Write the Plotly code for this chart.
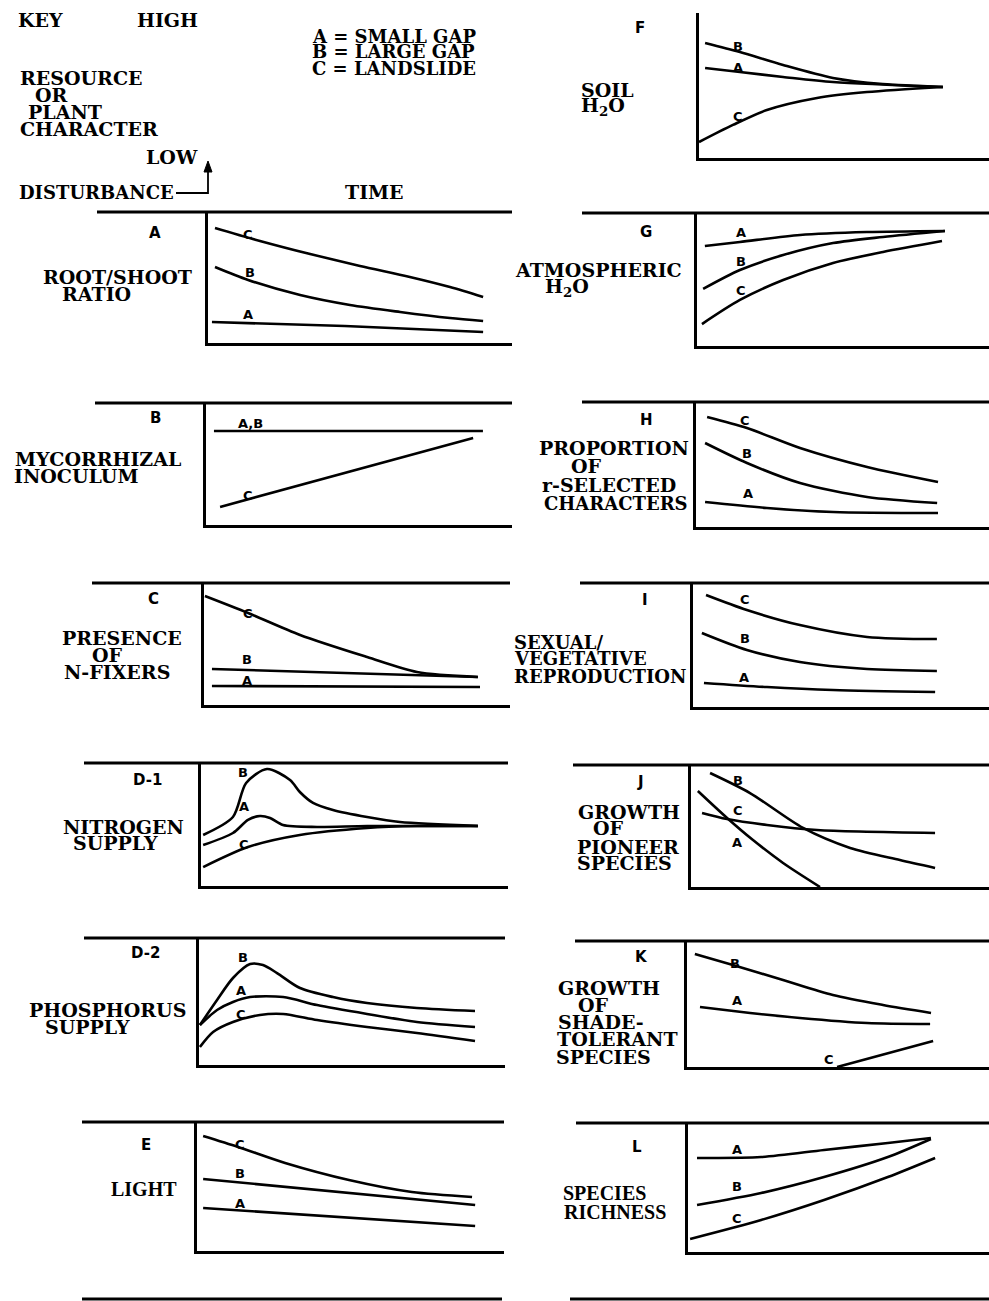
import plotly.graph_objects as go

W, H = 989, 1301

# ---------------- DATA (time 0-100 along each panel's time axis, level 0-100 up its axis) -------------
# Panel A: root/shoot ratio
rs_C_t = [2.3, 17.1, 33.6, 50.0, 66.4, 79.6, 90.5]
rs_C_y = [87.8, 77.9, 67.9, 58.8, 50.4, 42.7, 35.1]
rs_B_t = [2.3, 13.2, 30.3, 46.7, 63.2, 79.6, 90.5]
rs_B_y = [58.0, 48.1, 36.6, 29.0, 23.7, 19.1, 16.8]
rs_A_t = [1.3, 45.0, 90.5]
rs_A_y = [16.0, 13.0, 8.4]
# Panel B: mycorrhizal inoculum
my_AB_t = [2.6, 90.5]
my_AB_y = [77.0, 77.0]
my_C_t = [4.6, 87.3]
my_C_y = [14.8, 71.3]
# Panel C: presence of N-fixers
nf_C_t = [0.3, 14.4, 31.4, 53.3, 69.6, 89.5]
nf_C_y = [89.3, 75.4, 57.4, 39.3, 27.0, 23.0]
nf_B_t = [2.6, 89.5]
nf_B_y = [29.5, 23.0]
nf_A_t = [2.6, 90.2]
nf_A_y = [15.6, 14.8]
# Panel D-1: nitrogen supply
ns_B_t = [0.7, 10.4, 14.7, 21.5, 29.0, 32.2, 36.5, 43.0, 54.1, 64.8, 90.2]
ns_B_y = [41.5, 56.1, 83.7, 95.1, 86.2, 76.4, 67.5, 61.8, 56.1, 52.0, 48.8]
ns_A_t = [0.7, 10.4, 15.3, 19.2, 22.5, 26.7, 37.8, 54.1, 90.2]
ns_A_y = [33.3, 43.1, 53.7, 56.9, 55.3, 49.6, 48.0, 48.8, 48.8]
ns_C_t = [0.7, 15.3, 32.2, 54.1, 70.4, 90.2]
ns_C_y = [15.4, 31.7, 41.5, 47.2, 48.8, 48.8]
# Panel D-2: phosphorus supply
ps_B_t = [0.3, 5.9, 11.1, 16.7, 20.9, 25.5, 33.0, 43.8, 54.9, 71.2, 90.2]
ps_B_y = [31.5, 51.2, 68.5, 79.5, 78.7, 72.4, 60.6, 53.5, 48.8, 44.9, 42.5]
ps_A_t = [0.3, 5.9, 11.1, 16.7, 27.5, 38.6, 54.9, 71.2, 90.2]
ps_A_y = [31.5, 43.3, 49.6, 53.5, 53.5, 47.2, 40.2, 33.9, 29.9]
ps_C_t = [0.3, 4.6, 11.1, 19.9, 27.5, 38.6, 54.9, 71.2, 90.2]
ps_C_y = [14.2, 26.0, 33.9, 39.4, 40.2, 35.4, 29.9, 25.2, 18.9]
# Panel E: light
li_C_t = [2.0, 13.4, 28.7, 49.5, 70.0, 89.6]
li_C_y = [89.1, 80.6, 68.2, 55.0, 45.7, 41.9]
li_B_t = [2.0, 90.6]
li_B_y = [55.8, 35.7]
li_A_t = [2.0, 90.6]
li_A_y = [33.3, 19.4]
# Panel F: soil H2O
sw_B_t = [2.1, 14.1, 29.0, 46.2, 63.4, 84.1]
sw_B_y = [79.3, 73.1, 64.1, 55.2, 51.0, 49.0]
sw_A_t = [2.1, 14.1, 29.0, 46.2, 84.1]
sw_A_y = [62.1, 59.3, 55.9, 52.4, 49.0]
sw_C_t = [0.0, 11.7, 23.4, 40.7, 57.9, 84.1]
sw_C_y = [11.0, 22.8, 33.1, 41.4, 45.5, 49.0]
# Panel G: atmospheric H2O
aw_A_t = [2.7, 14.7, 35.3, 58.2, 84.9]
aw_A_y = [75.2, 78.2, 83.5, 85.7, 86.5]
aw_B_t = [2.1, 14.7, 29.5, 46.6, 63.7, 84.9]
aw_B_y = [42.9, 57.1, 68.4, 77.4, 82.0, 86.5]
aw_C_t = [1.7, 14.7, 29.5, 46.6, 63.7, 83.9]
aw_C_y = [16.5, 34.6, 49.6, 62.4, 70.7, 78.9]
# Panel H: proportion of r-selected characters
rc_C_t = [3.8, 17.4, 35.5, 58.4, 82.6]
rc_C_y = [88.0, 79.2, 63.2, 48.0, 36.0]
rc_B_t = [3.1, 17.4, 35.5, 58.4, 82.3]
rc_B_y = [67.2, 51.2, 35.2, 24.0, 19.2]
rc_A_t = [3.1, 24.2, 46.8, 82.6]
rc_A_y = [20.0, 15.2, 12.0, 11.2]
# Panel I: sexual/vegetative reproduction
sv_C_t = [4.4, 18.2, 36.1, 58.8, 82.4]
sv_C_y = [90.3, 78.2, 66.1, 56.5, 54.8]
sv_B_t = [3.0, 18.2, 36.1, 58.8, 82.4]
sv_B_y = [59.7, 46.0, 36.3, 30.6, 29.0]
sv_A_t = [3.7, 25.0, 47.3, 81.8]
sv_A_y = [19.4, 16.1, 13.7, 12.1]
# Panel J: growth of pioneer species
pi_B_t = [6.4, 19.8, 37.6, 53.4, 70.1, 81.9]
pi_B_y = [93.4, 77.0, 48.4, 32.0, 22.1, 15.6]
pi_A_t = [2.3, 12.1, 20.8, 30.9, 43.3]
pi_A_y = [78.7, 56.6, 38.5, 19.7, 0.0]
pi_C_t = [3.7, 12.1, 25.5, 42.3, 81.9]
pi_C_y = [60.7, 55.7, 50.8, 46.7, 44.3]
# Panel K: growth of shade-tolerant species
st_B_t = [2.6, 15.2, 31.8, 48.3, 64.9, 80.8]
st_B_y = [89.7, 81.0, 69.0, 57.1, 49.2, 42.9]
st_A_t = [4.3, 20.9, 37.4, 59.6, 80.5]
st_A_y = [47.6, 42.9, 38.9, 34.9, 34.1]
st_C_t = [49.7, 81.5]
st_C_y = [0.0, 20.6]
# Panel L: species richness
sr_A_t = [3.0, 24.3, 45.2, 66.4, 80.7]
sr_A_y = [72.9, 73.6, 79.1, 84.5, 88.4]
sr_B_t = [3.0, 24.3, 45.2, 66.4, 80.7]
sr_B_y = [36.4, 45.7, 58.1, 73.6, 87.6]
sr_C_t = [0.7, 24.3, 45.2, 66.4, 82.1]
sr_C_y = [10.1, 24.8, 40.3, 58.1, 72.9]

# curve label positions (time, level) per panel
rs_lab = [("C", 13.2, 83.2), ("B", 13.8, 54.2), ("A", 13.2, 22.1)]
my_lab = [("A,B", 14.4, 83.6), ("C", 13.7, 23.8)]
nf_lab = [("C", 14.4, 75.4), ("B", 14.1, 36.9), ("A", 14.1, 19.7)]
ns_lab = [("B", 13.7, 91.9), ("A", 14.0, 65.0), ("C", 14.0, 34.1)]
ps_lab = [("B", 14.4, 84.3), ("A", 13.7, 58.3), ("C", 13.7, 39.4)]
li_lab = [("C", 14.0, 82.2), ("B", 14.0, 59.7), ("A", 14.0, 37.2)]
sw_lab = [("B", 13.4, 77.2), ("A", 13.4, 62.1), ("C", 13.4, 28.3)]
aw_lab = [("A", 15.1, 85.0), ("B", 15.1, 63.2), ("C", 15.1, 42.1)]
rc_lab = [("C", 16.7, 85.6), ("B", 17.4, 59.2), ("A", 17.7, 27.2)]
sv_lab = [("C", 17.6, 86.3), ("B", 17.6, 55.6), ("A", 17.2, 23.4)]
pi_lab = [("B", 15.8, 86.9), ("A", 15.4, 36.1), ("C", 15.8, 63.1)]
st_lab = [("B", 15.9, 82.5), ("A", 16.6, 52.4), ("C", 47.0, 5.6)]
sr_lab = [("A", 16.3, 79.1), ("B", 16.3, 50.4), ("C", 16.3, 25.6)]

# ---------------- LAYOUT (pixel geometry of each panel: left, right, bottom, top) ----------------
panels = [
    dict(geom=(208, 512, 157, 8), curves=[], labels=[]),                                   # key
    dict(geom=(208, 512, 343, 212), curves=[(rs_C_t, rs_C_y), (rs_B_t, rs_B_y), (rs_A_t, rs_A_y)], labels=rs_lab),
    dict(geom=(206, 512, 525, 403), curves=[(my_AB_t, my_AB_y), (my_C_t, my_C_y)], labels=my_lab),
    dict(geom=(204, 510, 705, 583), curves=[(nf_C_t, nf_C_y), (nf_B_t, nf_B_y), (nf_A_t, nf_A_y)], labels=nf_lab),
    dict(geom=(201, 508, 886, 763), curves=[(ns_B_t, ns_B_y), (ns_A_t, ns_A_y), (ns_C_t, ns_C_y)], labels=ns_lab),
    dict(geom=(199, 505, 1065, 938), curves=[(ps_B_t, ps_B_y), (ps_A_t, ps_A_y), (ps_C_t, ps_C_y)], labels=ps_lab),
    dict(geom=(197, 504, 1251, 1122), curves=[(li_C_t, li_C_y), (li_B_t, li_B_y), (li_A_t, li_A_y)], labels=li_lab),
    dict(geom=(699, 989, 158, 13), curves=[(sw_B_t, sw_B_y), (sw_A_t, sw_A_y), (sw_C_t, sw_C_y)], labels=sw_lab),
    dict(geom=(697, 989, 346, 213), curves=[(aw_A_t, aw_A_y), (aw_B_t, aw_B_y), (aw_C_t, aw_C_y)], labels=aw_lab),
    dict(geom=(696, 989, 527, 402), curves=[(rc_C_t, rc_C_y), (rc_B_t, rc_B_y), (rc_A_t, rc_A_y)], labels=rc_lab),
    dict(geom=(693, 989, 707, 583), curves=[(sv_C_t, sv_C_y), (sv_B_t, sv_B_y), (sv_A_t, sv_A_y)], labels=sv_lab),
    dict(geom=(691, 989, 887, 765), curves=[(pi_B_t, pi_B_y), (pi_A_t, pi_A_y), (pi_C_t, pi_C_y)], labels=pi_lab),
    dict(geom=(687, 989, 1067, 941), curves=[(st_B_t, st_B_y), (st_A_t, st_A_y), (st_C_t, st_C_y)], labels=st_lab),
    dict(geom=(688, 989, 1252, 1123), curves=[(sr_A_t, sr_A_y), (sr_B_t, sr_B_y), (sr_C_t, sr_C_y)], labels=sr_lab),
]

# separator rules (y, x_start, x_end) in pixels
separators = [
    (212, 97, 512), (403, 95, 512), (583, 92, 510), (763, 84, 508), (938, 84, 505), (1122, 82, 504), (1299, 82, 502),
    (213, 582, 989), (402, 582, 989), (583, 580, 989), (765, 573, 989), (941, 575, 989), (1123, 576, 989), (1299, 570, 989),
]

# text: (text, x, y, style, anchor)
texts = [
    ("KEY", 40, 20, "main", "center"), ("HIGH", 167, 20, "main", "center"),
    ("RESOURCE", 81, 78, "main", "center"), ("OR", 51, 95, "main", "center"),
    ("PLANT", 65, 112, "main", "center"), ("CHARACTER", 89, 129, "main", "center"),
    ("LOW", 172, 157, "main", "center"), ("DISTURBANCE", 96, 192, "small", "center"),
    ("TIME", 374, 192, "main", "center"),
    ("A = SMALL GAP", 310, 36, "legend", "left"), ("B = LARGE GAP", 310, 52, "legend", "left"),
    ("C = LANDSLIDE", 310, 68, "legend", "left"),
    ("A", 155, 233, "panel", "center"), ("ROOT/SHOOT", 117, 277, "main", "center"), ("RATIO", 96, 294, "main", "center"),
    ("B", 155, 418, "panel", "center"), ("MYCORRHIZAL", 98, 459, "main", "center"), ("INOCULUM", 76, 476, "main", "center"),
    ("C", 153, 599, "panel", "center"), ("PRESENCE", 122, 638, "main", "center"), ("OF", 107, 655, "main", "center"),
    ("N-FIXERS", 117, 672, "main", "center"),
    ("D-1", 147, 780, "panel", "center"), ("NITROGEN", 123, 827, "main", "center"), ("SUPPLY", 115, 843, "main", "center"),
    ("D-2", 145, 953, "panel", "center"), ("PHOSPHORUS", 107, 1010, "main", "center"), ("SUPPLY", 87, 1027, "main", "center"),
    ("E", 146, 1145, "panel", "center"), ("LIGHT", 144, 1189, "narrow", "center"),
    ("F", 640, 28, "panel", "center"), ("SOIL", 607, 90, "main", "center"), ("H<sub>2</sub>O", 603, 106, "main", "center"),
    ("G", 646, 232, "panel", "center"), ("ATMOSPHERIC", 598, 270, "main", "center"), ("H<sub>2</sub>O", 567, 288, "main", "center"),
    ("H", 646, 420, "panel", "center"), ("PROPORTION", 614, 448, "main", "center"), ("OF", 586, 466, "main", "center"),
    ("r-SELECTED", 609, 485, "main", "center"), ("CHARACTERS", 616, 503, "small", "center"),
    ("I", 645, 600, "panel", "center"), ("SEXUAL/", 512, 642, "small", "left"), ("VEGETATIVE", 512, 658, "small", "left"),
    ("REPRODUCTION", 512, 676, "small", "left"),
    ("J", 640, 782, "panel", "center"), ("GROWTH", 629, 812, "main", "center"), ("OF", 608, 828, "main", "center"),
    ("PIONEER", 628, 847, "main", "center"), ("SPECIES", 624, 863, "main", "center"),
    ("K", 641, 957, "panel", "center"), ("GROWTH", 609, 988, "main", "center"), ("OF", 593, 1005, "main", "center"),
    ("SHADE-", 601, 1022, "main", "center"), ("TOLERANT", 617, 1039, "main", "center"), ("SPECIES", 603, 1057, "main", "center"),
    ("L", 637, 1147, "panel", "center"), ("SPECIES", 604, 1193, "narrow", "center"), ("RICHNESS", 615, 1212, "narrow", "center"),
]

fonts = {
    "main": dict(family="DejaVu Serif", size=19, color="black"),
    "small": dict(family="DejaVu Serif", size=18, color="black"),
    "legend": dict(family="DejaVu Serif", size=18, color="black"),
    "panel": dict(family="DejaVu Sans", size=15, color="black"),
    "narrow": dict(family="Liberation Serif", size=20, color="black"),
}


def px(x):
    return x / W


def py(y):
    return 1 - y / H


fig = go.Figure()
layout = dict(
    width=W, height=H, margin=dict(l=0, r=0, t=0, b=0),
    paper_bgcolor="white", plot_bgcolor="rgba(0,0,0,0)", showlegend=False,
)
annotations = []
shapes = []

axis_common = dict(range=[0, 100], showline=True, linecolor="black", linewidth=3, showgrid=False,
                   zeroline=False, showticklabels=False, ticks="", fixedrange=True)

for i, p in enumerate(panels):
    n = i + 1
    sfx = "" if n == 1 else str(n)
    x0, x1, yb, yt = p["geom"]
    layout["xaxis" + sfx] = dict(domain=[px(x0), px(x1)], anchor="y" + sfx, **axis_common)
    layout["yaxis" + sfx] = dict(domain=[py(yb), py(yt)], anchor="x" + sfx, **axis_common)
    for (t, v) in p["curves"]:
        fig.add_trace(go.Scatter(
            x=t, y=v, mode="lines", xaxis="x" + sfx, yaxis="y" + sfx,
            line=dict(color="black", width=2.6, shape="spline", smoothing=0.8),
            hoverinfo="skip", cliponaxis=True,
        ))
    for (letter, lt, lv) in p["labels"]:
        annotations.append(dict(
            x=lt, y=lv, xref="x" + sfx, yref="y" + sfx, text="<b>" + letter + "</b>", showarrow=False,
            font=dict(family="DejaVu Sans", size=13, color="black"), xanchor="center", yanchor="middle",
        ))

for (yy, xa, xb) in separators:
    shapes.append(dict(type="line", xref="paper", yref="paper", x0=px(xa), x1=px(xb), y0=py(yy), y1=py(yy),
                       line=dict(color="black", width=3)))

for (txt, x, y, style, anchor) in texts:
    body = "<b>" + txt + "</b>"
    annotations.append(dict(x=px(x), y=py(y), xref="paper", yref="paper", text=body, showarrow=False,
                            font=fonts[style], xanchor=anchor, yanchor="middle"))

# disturbance arrow: dash, riser and head
shapes.append(dict(type="path", xref="paper", yref="paper",
                   path=f"M {px(176)},{py(193)} L {px(208)},{py(193)} L {px(208)},{py(170)}",
                   line=dict(color="black", width=1.8)))
shapes.append(dict(type="path", xref="paper", yref="paper",
                   path=f"M {px(208)},{py(161)} L {px(204)},{py(172)} L {px(212)},{py(172)} Z",
                   fillcolor="black", line=dict(color="black", width=1)))

layout["annotations"] = annotations
layout["shapes"] = shapes
fig.update_layout(**layout)
fig.write_html("out.html")
